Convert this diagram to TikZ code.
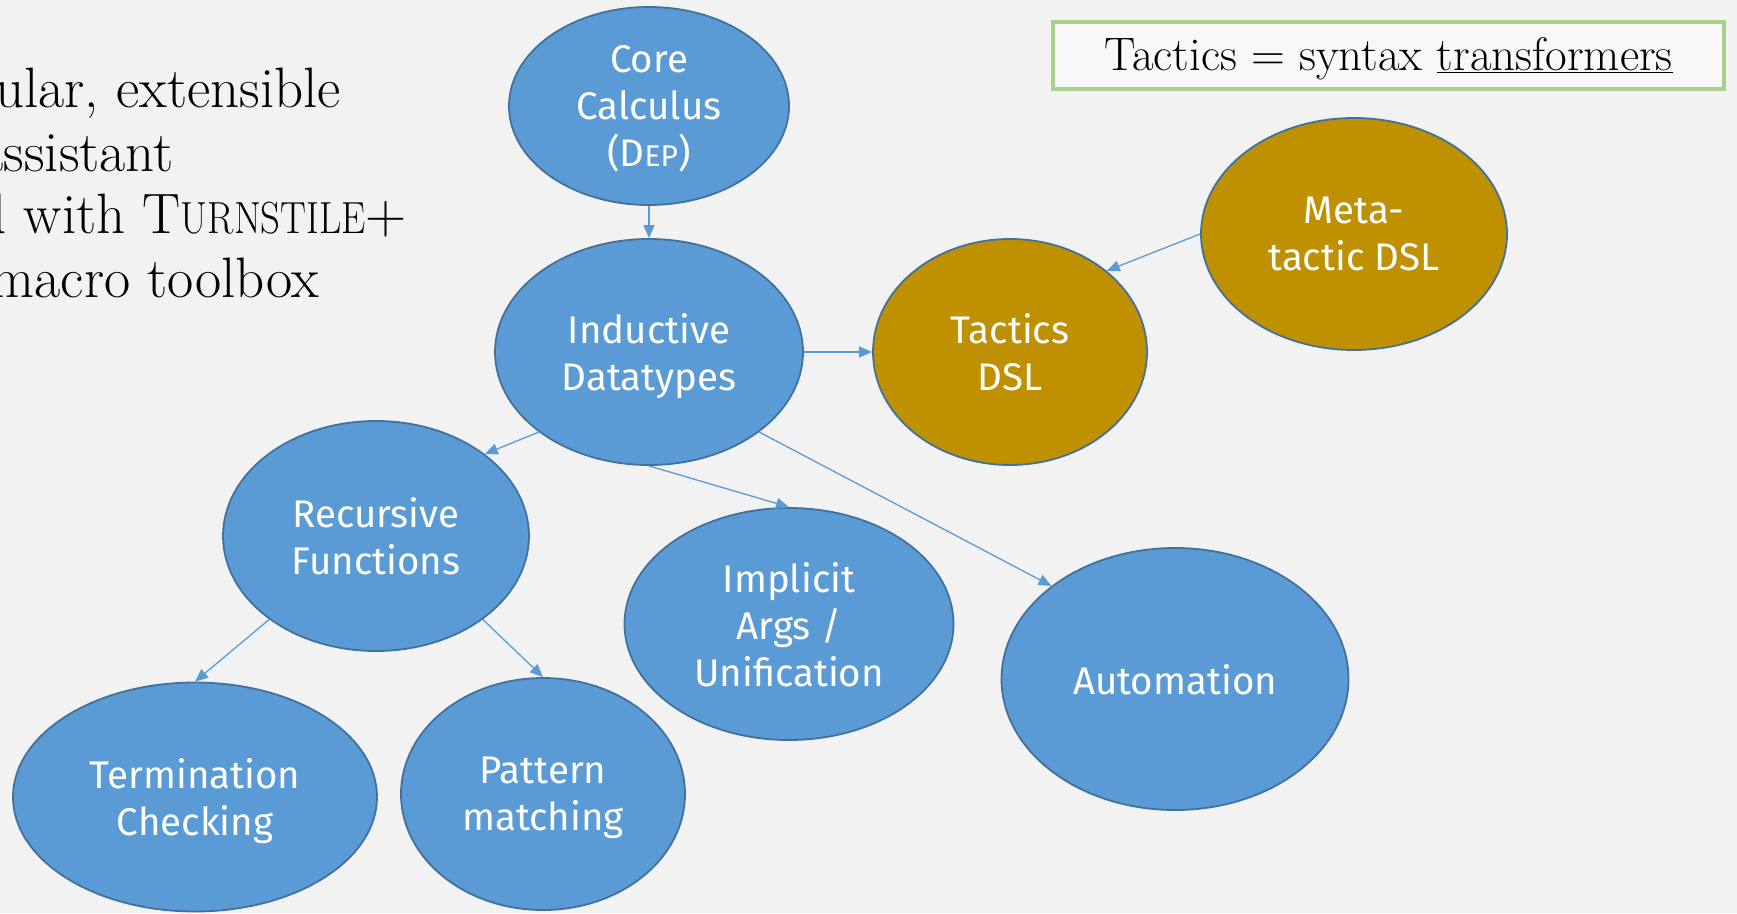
\documentclass[tikz,border=0pt]{standalone}
\usepackage{fontspec}
\usepackage{graphicx}
\newfontfamily\firafont{Fira Sans}
\usetikzlibrary{shapes.geometric,arrows.meta}
\definecolor{bgc}{HTML}{F2F2F2}
\definecolor{nodeblue}{HTML}{5B9BD5}
\definecolor{nodegold}{HTML}{BF9000}
\definecolor{rimblue}{HTML}{41719C}
\definecolor{boxgreen}{HTML}{A9D18E}
\definecolor{boxfill}{HTML}{F8F8F8}
\newcommand{\fakesc}[1]{{\fontsize{30}{30}\selectfont #1}}
\newcommand{\bigsc}[1]{\scalebox{0.86}[1]{\fontsize{45}{45}\selectfont #1}}
\tikzset{
  bubble/.style={ellipse, draw=rimblue, line width=1.8pt, fill=nodeblue,
    text=white, inner sep=0pt, align=center, text depth=0pt,
    font=\firafont\fontsize{38.5}{47}\selectfont},
  goldbubble/.style={bubble, fill=nodegold},
  link/.style={draw=nodeblue, line width=1.3pt,
    -{Triangle[length=13pt,width=11pt]}},
  slide/.style={font=\fontsize{57}{66}\selectfont, anchor=base east, inner sep=0pt},
}
\begin{document}
\begin{tikzpicture}[x=1pt,y=-1pt]
  \useasboundingbox (0,0) rectangle (1737,913);
  \clip (0,0) rectangle (1737,913);
  \fill[bgc] (0,0) rectangle (1737,913);

  % bullet text running in from the left margin
  \node[slide] (l1) at (341,107.5) {ular, extensible};
  \node[slide] (l2) at (174,171.7) {assistant};
  \node[slide] (l3) at (407,233.7) {d with T\bigsc{URNSTILE}+};
  \node[slide] (l4) at (319,297) {macro toolbox};

  % headline box
  \node[draw=boxgreen, line width=4pt, fill=boxfill, minimum width=671pt,
        minimum height=67pt, inner sep=0pt, text height=36pt, text depth=7pt,
        font=\fontsize{47}{56}\selectfont]
        (tag) at (1388.5,55.5) {Tactics = syntax \underline{transformers}};

  % components
  \node[bubble, minimum width=280pt, minimum height=198pt] (core) at (649,106)
       {Core\\Calculus\\(D\fakesc{EP})};
  \node[bubble, minimum width=308pt, minimum height=226pt] (ind) at (649,352)
       {Inductive\\Datatypes};
  \node[goldbubble, minimum width=274pt, minimum height=226pt] (tac) at (1010,352)
       {Tactics\\DSL};
  \node[goldbubble, minimum width=306pt, minimum height=232pt] (meta) at (1354,234)
       {Meta-\\tactic DSL};
  \node[bubble, minimum width=306pt, minimum height=230pt] (rec) at (376,536)
       {Recursive\\Functions};
  \node[bubble, minimum width=329pt, minimum height=232pt] (imp) at (789,624)
       {Implicit\\Args /\\Unification};
  \node[bubble, minimum width=347pt, minimum height=262pt] (aut) at (1175,679)
       {Automation};
  \node[bubble, minimum width=364pt, minimum height=229pt] (term) at (195,797)
       {Termination\\Checking};
  \node[bubble, minimum width=284pt, minimum height=232pt] (pat) at (543,794)
       {Pattern\\matching};

  % dependencies
  \draw[link] (core.south) -- (ind.north);
  \draw[link] (ind.east) -- (tac.west);
  \draw[link] (meta.west) -- (tac.40);
  \draw[link] (ind.216) -- (rec.37);
  \draw[link] (ind.south) -- (imp.north);
  \draw[link] (ind.-36) -- (aut.143);
  \draw[link] (rec.218) -- (term.north);
  \draw[link] (rec.-38) -- (pat.north);
\end{tikzpicture}
\end{document}
